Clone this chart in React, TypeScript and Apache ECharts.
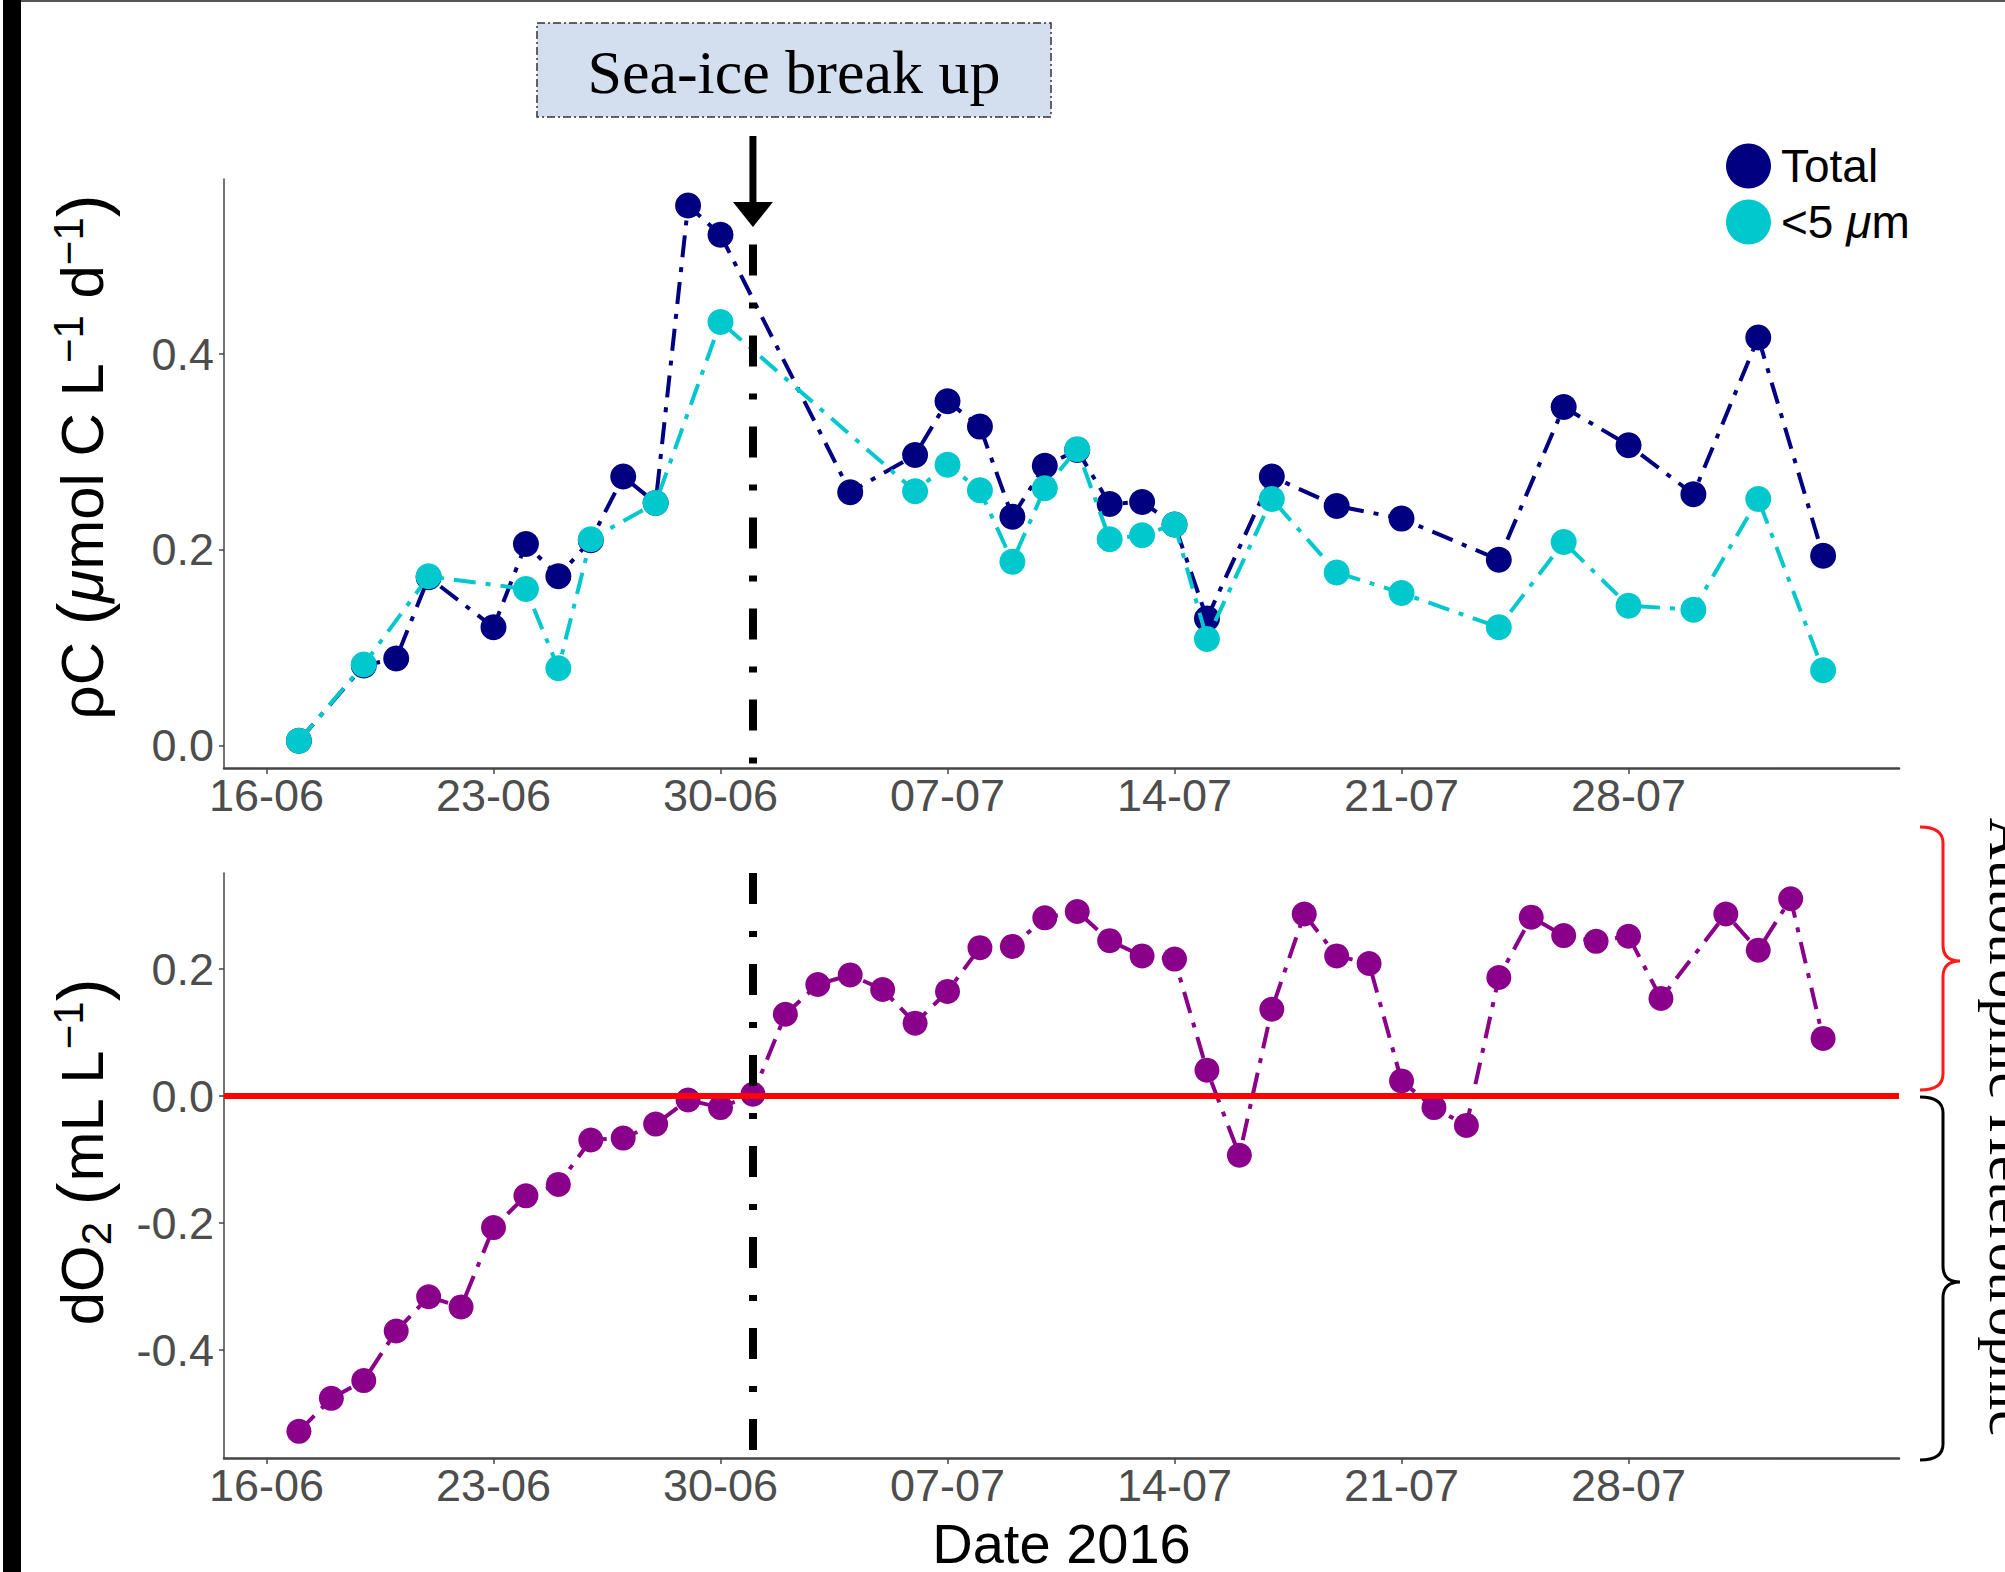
import React, { useEffect, useRef } from 'react';
import * as echarts from 'echarts';

const W = 2005;
const H = 1572;

// ---------- data ----------
const xTickDays = [0, 7, 14, 21, 28, 35, 42];
const xTickLabels = ['16-06', '23-06', '30-06', '07-07', '14-07', '21-07', '28-07'];
const topYTicks = [0, 0.2, 0.4];
const bottomYTicks = [-0.4, -0.2, 0, 0.2];

const totalDates = ['06-17', '06-19', '06-20', '06-21', '06-23', '06-24', '06-25', '06-26', '06-27', '06-28', '06-29', '06-30',
  '07-04', '07-06', '07-07', '07-08', '07-09', '07-10', '07-11', '07-12', '07-13', '07-14', '07-15', '07-17', '07-19', '07-21',
  '07-24', '07-26', '07-28', '07-30', '08-01', '08-03'];
const totalValues = [0.005, 0.082, 0.089, 0.172, 0.121, 0.206, 0.173, 0.210, 0.275, 0.248, 0.552, 0.522,
  0.259, 0.297, 0.352, 0.326, 0.234, 0.286, 0.302, 0.247, 0.249, 0.226, 0.130, 0.275, 0.245, 0.232,
  0.190, 0.346, 0.307, 0.257, 0.417, 0.194];

const smallDates = ['06-17', '06-19', '06-21', '06-24', '06-25', '06-26', '06-28', '06-30',
  '07-06', '07-07', '07-08', '07-09', '07-10', '07-11', '07-12', '07-13', '07-14', '07-15', '07-17', '07-19', '07-21',
  '07-24', '07-26', '07-28', '07-30', '08-01', '08-03'];
const smallValues = [0.005, 0.083, 0.173, 0.160, 0.079, 0.211, 0.248, 0.433,
  0.260, 0.287, 0.261, 0.188, 0.263, 0.303, 0.211, 0.215, 0.226, 0.109, 0.252, 0.177, 0.156,
  0.121, 0.208, 0.143, 0.139, 0.252, 0.077];

const do2Dates = ['06-17', '06-18', '06-19', '06-20', '06-21', '06-22', '06-23', '06-24', '06-25', '06-26', '06-27', '06-28', '06-29', '06-30',
  '07-01', '07-02', '07-03', '07-04', '07-05', '07-06', '07-07', '07-08', '07-09', '07-10', '07-11', '07-12', '07-13', '07-14', '07-15',
  '07-16', '07-17', '07-18', '07-19', '07-20', '07-21', '07-22', '07-23', '07-24', '07-25', '07-26', '07-27', '07-28', '07-29',
  '07-31', '08-01', '08-02', '08-03'];
const do2Values = [-0.528, -0.476, -0.448, -0.370, -0.316, -0.332, -0.207, -0.157, -0.139, -0.069, -0.066, -0.044, -0.006, -0.018,
  0.003, 0.129, 0.176, 0.191, 0.168, 0.115, 0.165, 0.234, 0.236, 0.281, 0.291, 0.245, 0.221, 0.216, 0.041,
  -0.093, 0.137, 0.287, 0.221, 0.209, 0.024, -0.018, -0.046, 0.187, 0.282, 0.253, 0.244, 0.252, 0.154,
  0.287, 0.230, 0.311, 0.091];

const breakDate = '07-01';

// axis extents (days since 16-06, and y values)
const xMin = -1.31;
const xMax = 50.34;
const topYMin = -0.0228;
const topYMax = 0.579;
const botYMin = -0.570;
const botYMax = 0.3516;
const breakLineTopValue = 0.512;

// ---------- helpers ----------
function dayOf(md: string): number {
  const [m, d] = md.split('-').map(Number);
  return (Date.UTC(2016, m - 1, d) - Date.UTC(2016, 5, 16)) / 86400000;
}
function pairs(dates: string[], vals: number[]) {
  return dates.map((d, i) => [dayOf(d), vals[i]]);
}

// braces (decorative annotations)
const braceRedPath = 'M 1920 827 Q 1943 827 1943 843 L 1943 945 Q 1943 961 1960 961 Q 1943 961 1943 977 L 1943 1074 Q 1943 1090 1920 1090';
const braceBlackPath = 'M 1920 1097 Q 1943 1097 1943 1113 L 1943 1266 Q 1943 1282 1960 1282 Q 1943 1282 1943 1298 L 1943 1444 Q 1943 1460 1920 1460';
let registered = false;
function registerShapes() {
  if (registered) return;
  registered = true;
  echarts.graphic.registerShape('braceRed', echarts.graphic.extendPath(braceRedPath, {}) as any);
  echarts.graphic.registerShape('braceBlack', echarts.graphic.extendPath(braceBlackPath, {}) as any);
}

const SANS = 'Liberation Sans';
const SERIF = 'Liberation Serif';
const NAVY = '#000080';
const CYAN = '#00C8CD';
const PURPLE = '#8B008B';
const LABEL_GRAY = '#4d4d4d';
const AXIS_GRAY = '#444';

const seriesDash = [22, 10, 5, 10];
const vlineDash = [31, 27, 6, 27];

function titleRich() {
  return {
    n: { fontFamily: SANS, fontSize: 60, lineHeight: 70, fill: '#000' },
    i: { fontFamily: SANS, fontSize: 60, lineHeight: 70, fontStyle: 'italic', fill: '#000' },
    p: { fontFamily: SANS, fontSize: 68, lineHeight: 70, fill: '#000' },
    s: { fontFamily: SANS, fontSize: 42, lineHeight: 56, verticalAlign: 'top', fill: '#000' },
    b: { fontFamily: SANS, fontSize: 42, lineHeight: 42, verticalAlign: 'bottom', fill: '#000' },
  };
}

export default function App() {
  const ref = useRef<HTMLDivElement>(null);

  useEffect(() => {
    document.body.style.margin = '0';
    registerShapes();
    const chart = echarts.init(ref.current!, null, { renderer: 'svg', width: W, height: H });

    const xAxisCommon = (gridIndex: number) => ({
      type: 'value' as const,
      gridIndex,
      min: xMin,
      max: xMax,
      splitLine: { show: false },
      axisLine: { show: true, onZero: false, lineStyle: { color: AXIS_GRAY, width: 2.5 } },
      axisTick: { show: true, customValues: xTickDays, length: 6, lineStyle: { color: AXIS_GRAY, width: 1.5 } },
      axisLabel: {
        customValues: xTickDays,
        margin: 5,
        color: LABEL_GRAY,
        fontFamily: SANS,
        fontSize: 45,
        formatter: (v: number) => {
          const idx = xTickDays.indexOf(Math.round(v));
          return idx >= 0 ? xTickLabels[idx] : '';
        },
      },
    });

    const yAxisCommon = (gridIndex: number, min: number, max: number, ticks: number[]) => ({
      type: 'value' as const,
      gridIndex,
      min,
      max,
      splitLine: { show: false },
      axisLine: { show: true, onZero: false, lineStyle: { color: AXIS_GRAY, width: 1.5 } },
      axisTick: { show: true, customValues: ticks, length: 5, lineStyle: { color: AXIS_GRAY, width: 1.5 } },
      axisLabel: {
        customValues: ticks,
        margin: 10,
        color: LABEL_GRAY,
        fontFamily: SANS,
        fontSize: 45,
        formatter: (v: number) => v.toFixed(1),
      },
    });

    const lineSeries = (name: string, data: number[][], color: string, xi: number, size: number, z: number) => ({
      name,
      type: 'line' as const,
      xAxisIndex: xi,
      yAxisIndex: xi,
      data,
      z,
      symbol: 'circle',
      symbolSize: size,
      color,
      itemStyle: { color },
      lineStyle: { color, width: 4, type: seriesDash, cap: 'butt' },
      emphasis: { disabled: true },
    });

    const breakDay = dayOf(breakDate);

    const option: any = {
      animation: false,
      backgroundColor: '#fff',
      grid: [
        { left: 224, top: 179, width: 1675, height: 589 },
        { left: 224, top: 873, width: 1675, height: 589 },
      ],
      legend: {
        data: ['Total', '<5 μm'],
        orient: 'vertical',
        left: 1726,
        top: 143,
        itemWidth: 45,
        itemHeight: 45,
        itemGap: 10,
        icon: 'circle',
        padding: 0,
        selectedMode: false,
        formatter: (name: string) => (name === 'Total' ? '{a|Total}' : '{a|<5 }{i|μ}{a|m}'),
        textStyle: {
          fontFamily: SANS,
          fontSize: 46,
          color: '#000',
          padding: [0, 0, 0, 5],
          rich: {
            a: { fontFamily: SANS, fontSize: 46, color: '#000' },
            i: { fontFamily: SANS, fontSize: 46, color: '#000', fontStyle: 'italic' },
          },
        },
      },
      xAxis: [
        xAxisCommon(0),
        {
          ...xAxisCommon(1),
          name: 'Date 2016',
          nameLocation: 'middle',
          nameGap: 63,
          nameTextStyle: { fontFamily: SANS, fontSize: 56, lineHeight: 44, color: '#000' },
        },
      ],
      yAxis: [
        yAxisCommon(0, topYMin, topYMax, topYTicks),
        yAxisCommon(1, botYMin, botYMax, bottomYTicks),
      ],
      series: [
        lineSeries('Total', pairs(totalDates, totalValues), NAVY, 0, 26, 3),
        lineSeries('<5 μm', pairs(smallDates, smallValues), CYAN, 0, 26, 4),
        {
          name: 'zero',
          type: 'line',
          xAxisIndex: 1,
          yAxisIndex: 1,
          data: [],
          z: 1,
          markLine: {
            silent: true,
            symbol: ['none', 'none'],
            label: { show: false },
            lineStyle: { color: '#ff0000', width: 6, type: 'solid' },
            data: [{ yAxis: 0 }],
          },
        },
        lineSeries('dO2', pairs(do2Dates, do2Values), PURPLE, 1, 25, 3),
        {
          name: 'breakTop',
          type: 'line',
          xAxisIndex: 0,
          yAxisIndex: 0,
          data: [],
          z: 10,
          markLine: {
            silent: true,
            symbol: ['none', 'none'],
            label: { show: false },
            lineStyle: { color: '#000', width: 8, type: vlineDash, cap: 'butt' },
            data: [[{ coord: [breakDay, breakLineTopValue] }, { coord: [breakDay, topYMin] }]],
          },
        },
        {
          name: 'breakBottom',
          type: 'line',
          xAxisIndex: 1,
          yAxisIndex: 1,
          data: [],
          z: 10,
          markLine: {
            silent: true,
            symbol: ['none', 'none'],
            label: { show: false },
            lineStyle: { color: '#000', width: 8, type: vlineDash, cap: 'butt' },
            data: [[{ coord: [breakDay, botYMax] }, { coord: [breakDay, botYMin] }]],
          },
        },
      ],
    };

    chart.setOption(option);

    const ax = chart.convertToPixel({ xAxisIndex: 0 }, breakDay) as number;

    chart.setOption({
      graphic: [
        { id: 'leftbar', type: 'rect', shape: { x: 3, y: 0, width: 18, height: H }, style: { fill: '#000' }, z: 100 },
        { id: 'topline', type: 'rect', shape: { x: 21, y: 0, width: W - 21, height: 2 }, style: { fill: '#555' }, z: 100 },
        {
          id: 'box', type: 'rect', shape: { x: 537, y: 23, width: 514, height: 94 },
          style: { fill: '#d3dfee', stroke: '#333', lineWidth: 1.5, lineDash: [8, 3, 2, 3] }, z: 100,
        },
        {
          id: 'boxText', type: 'text', x: 794, y: 72, z: 101,
          style: { text: 'Sea-ice break up', fontFamily: SERIF, fontSize: 62, fill: '#000', align: 'center', verticalAlign: 'middle' },
        },
        { id: 'arrowShaft', type: 'line', shape: { x1: ax, y1: 136, x2: ax, y2: 205 }, style: { stroke: '#000', lineWidth: 7 }, z: 100 },
        {
          id: 'arrowHead', type: 'polygon', shape: { points: [[ax - 20, 202], [ax + 20, 202], [ax, 227]] },
          style: { fill: '#000' }, z: 100,
        },
        {
          id: 'yTitleTop', type: 'text', x: 82, y: 457, rotation: Math.PI / 2, z: 100,
          style: {
            text: '{n|ρC }{p|(}{i|μ}{n|mol C L}{s|−1}{n| d}{s|−1}{p|)}',
            align: 'center', verticalAlign: 'middle', rich: titleRich(),
          },
        },
        {
          id: 'yTitleBottom', type: 'text', x: 82, y: 1152, rotation: Math.PI / 2, z: 100,
          style: {
            text: '{n|dO}{b|2}{n| }{p|(}{n|mL L}{s|−1}{p|)}',
            align: 'center', verticalAlign: 'middle', rich: titleRich(),
          },
        },
        { id: 'braceRed', type: 'braceRed', x: 0, y: 0, z: 100, style: { fill: 'none', stroke: '#ff1a1a', lineWidth: 3 } },
        { id: 'braceBlack', type: 'braceBlack', x: 0, y: 0, z: 100, style: { fill: 'none', stroke: '#000', lineWidth: 3 } },
        {
          id: 'auto', type: 'text', x: 2009, y: 958, rotation: -Math.PI / 2, z: 100,
          style: { text: 'Autotrophic', fontFamily: SERIF, fontSize: 58, fill: '#000', align: 'center', verticalAlign: 'middle' },
        },
        {
          id: 'hetero', type: 'text', x: 2009, y: 1275, rotation: -Math.PI / 2, z: 100,
          style: { text: 'Heterotrophic', fontFamily: SERIF, fontSize: 58, fill: '#000', align: 'center', verticalAlign: 'middle' },
        },
      ],
    });

    return () => {
      chart.dispose();
    };
  }, []);

  return (
    <div
      ref={ref}
      style={{ position: 'absolute', left: 0, top: 0, width: W, height: H, overflow: 'hidden', background: '#fff' }}
    />
  );
}
